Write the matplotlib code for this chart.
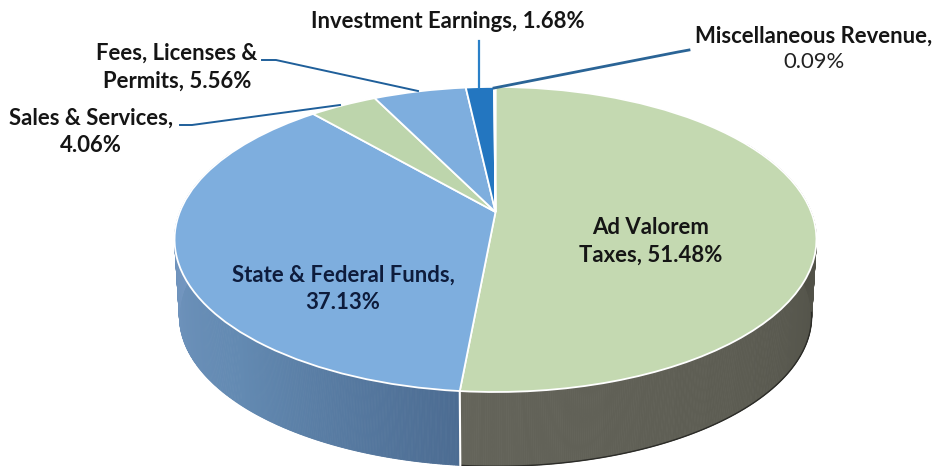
#!/usr/bin/env python3

import numpy as np
import matplotlib
matplotlib.use('Agg')
import matplotlib.pyplot as plt
from matplotlib.colors import to_rgb
from matplotlib.transforms import Transform

# Slices, clockwise from the top of the pie
categories = ['Ad Valorem Taxes', 'State & Federal Funds', 'Sales & Services',
              'Fees, Licenses & Permits', 'Investment Earnings', 'Miscellaneous Revenue']
values = [51.48, 37.13, 4.06, 5.56, 1.68, 0.09]
top_colors = ['#c4d9b1', '#7eaede', '#bdd5ac', '#7eaede', '#2376c0', '#1f5f9a']

# Perspective of the tilted pie, in pixels
CX, CY = 495.5, 212.0
A, B, K = 315.7, 147.6, 0.18
DEPTH, SHRINK = 77.0, 0.985


def project(u, v, scale=1.0, drop=0.0):
    w = 1 + K * v
    return CX + scale * A * u / w, CY + drop - scale * B * v / w


class Tilt(Transform):
    input_dims = 2
    output_dims = 2
    is_affine = False

    def transform_non_affine(self, xy):
        xy = np.asarray(xy)
        x, y = project(xy[:, 0], xy[:, 1])
        return np.column_stack([x, y])


fig = plt.figure(figsize=(9.37, 4.66), dpi=100)
ax = fig.add_axes([0, 0, 1, 1])

wedges, _ = ax.pie(values, startangle=90, counterclock=False, colors=top_colors,
                   wedgeprops={'edgecolor': 'white', 'linewidth': 1.3})
tilt = Tilt()
for w in wedges:
    w.set_transform(tilt + ax.transData)
    w.set_zorder(5)

ax.set_aspect('auto')
ax.set_xlim(0, 937)
ax.set_ylim(466, 0)
ax.axis('off')


def draw_wall(theta_from, theta_to, c_from, c_to):
    # side of the pie as thin quads, colour runs along the rim
    steps = np.linspace(theta_from, theta_to, 160)
    c_from, c_to = np.array(to_rgb(c_from)), np.array(to_rgb(c_to))
    for i in range(len(steps) - 1):
        t = np.radians(steps[i:i + 2])
        u, v = np.cos(t), np.sin(t)
        x1, y1 = project(u, v)
        x2, y2 = project(u, v, SHRINK, DEPTH)
        frac = i / (len(steps) - 2)
        col = c_from + (c_to - c_from) * frac
        ax.fill([x1[0], x1[1], x2[1], x2[0]], [y1[0], y1[1], y2[1], y2[0]],
                color=col, lw=0.6, zorder=2)


ad, state = wedges[0], wedges[1]
split = ad.theta1  # where Ad Valorem meets State & Federal at the front
draw_wall(split, split - 40, '#4c6c92', '#638ab2')
draw_wall(split - 40, -205, '#638ab2', '#7b9cc6')
draw_wall(split, split + 50, '#64645a', '#5c5c52')
draw_wall(split + 50, 30, '#5c5c52', '#48483f')

# dark outline under the Ad Valorem wall, white joint at the front
t = np.radians(np.linspace(split, -9, 120))
x, y = project(np.cos(t), np.sin(t), SHRINK, DEPTH)
ax.plot(x, y, color='#2c2c28', lw=1.0, zorder=3)
t0 = np.radians(split)
x1, y1 = project(np.cos(t0), np.sin(t0))
x2, y2 = project(np.cos(t0), np.sin(t0), SHRINK, DEPTH)
ax.plot([x1, x2], [y1, y2], color='white', lw=1.5, zorder=4)

# Labels
FONT = 'Lato'
text_kw = dict(family=FONT, fontsize=15.9, fontweight='bold', ha='center', va='center',
               color='#151515', zorder=8, linespacing=1.4)
ax.text(448, 21, 'Investment Earnings, 1.68%', **text_kw)
ax.text(814, 36, 'Miscellaneous Revenue,', **text_kw)
ax.text(814, 62, '0.09%', family=FONT, fontsize=15.9, fontweight='normal',
        ha='center', va='center', color='#222222', zorder=8)
ax.text(177, 67, 'Fees, Licenses &\nPermits, 5.56%', **text_kw)
ax.text(91, 132, 'Sales & Services,\n4.06%', **text_kw)
ax.text(651, 241, 'Ad Valorem\nTaxes, 51.48%', **text_kw)
ax.text(343, 289, 'State & Federal Funds,\n37.13%',
        **{**text_kw, 'color': '#0e1c3c'})

# Leader lines
ax.plot([262, 276, 418], [60, 60, 91], color='#1f5f9a', lw=1.4, zorder=6)
ax.plot([180, 192, 340], [125, 125, 105], color='#1f5f9a', lw=1.4, zorder=6)
ax.plot([479, 479], [41, 88], color='#2a80c8', lw=1.6, zorder=6)
ax.plot([494, 678, 689], [88, 52, 50], color='#2a6496', lw=2.0, zorder=6)

fig.savefig('out.png', dpi=100)
